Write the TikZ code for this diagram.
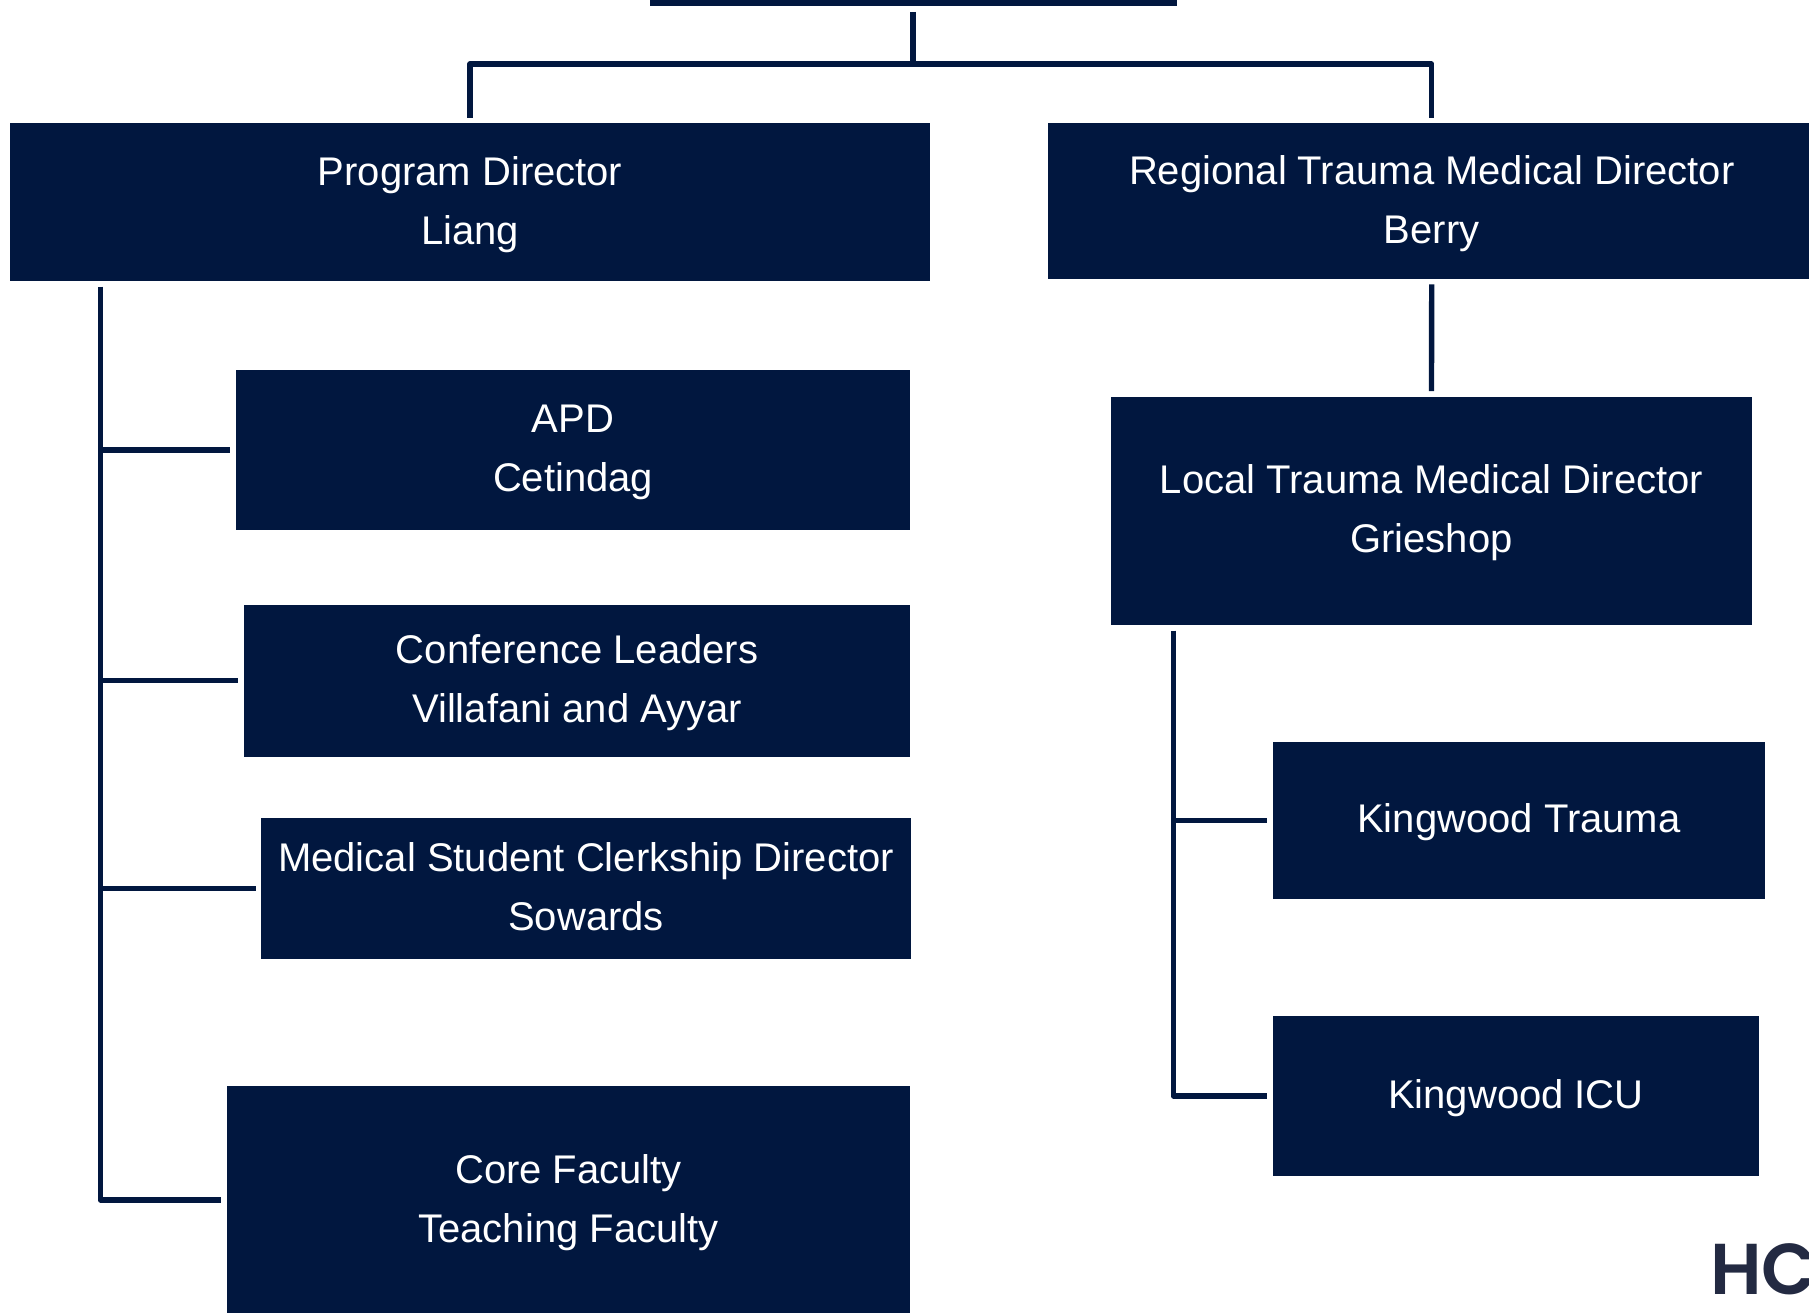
\documentclass[tikz,border=0pt]{standalone}
\usepackage{fontspec}
\setmainfont{Liberation Sans}
\newfontfamily\logofont{Poppins SemiBold}
\definecolor{navy}{HTML}{01173F}
\definecolor{logoink}{HTML}{232A42}
\newcommand{\orgbox}[6]{\node[orgnode,minimum width={(#4-#2)*1.1537pt},minimum height={(#5-#3)*1.1537pt}] (#1) at ({(#2+#4)/2},{(#3+#5)/2}) {\rule{0pt}{36pt}#6\rule[-11pt]{0pt}{11pt}};}
\tikzset{
  orgnode/.style={fill=navy,text=white,inner sep=0pt,outer sep=0pt,align=center,font=\fontsize{40}{59}\selectfont},
  conn/.style={draw=navy,line width=5.4pt,line join=round},
  gapboth/.style={conn,shorten <=5.8pt,shorten >=5.8pt},
  gapend/.style={conn,shorten >=5.8pt},
  gapstart/.style={conn,shorten <=5.8pt}
}
\begin{document}
\begin{tikzpicture}[x=1.1537pt,y=-1.1537pt]
\useasboundingbox (0,0) rectangle (1568,1138);
\clip (0,0) rectangle (1568,1138);
\node[orgnode,minimum width={457*1.1537pt},minimum height={10.4*1.1537pt}] (top) at (791.5,0) {};
\orgbox{pd}{9}{107}{806}{243.5}{Program Director\\Liang}
\orgbox{rt}{908}{107}{1574}{241.5}{Regional Trauma Medical Director\\Berry}
\orgbox{apd}{204.5}{321}{789}{459}{APD\\Cetindag}
\orgbox{conf}{211.5}{524}{789}{656}{Conference Leaders\\Villafani and Ayyar}
\orgbox{med}{226.5}{709}{789.5}{831}{Medical Student Clerkship Director\\Sowards}
\orgbox{core}{196.5}{941}{789}{1140.5}{Core Faculty\\Teaching Faculty}
\orgbox{local}{963}{344}{1518.5}{541.5}{Local Trauma Medical Director\\Grieshop}
\orgbox{kt}{1103}{643}{1530}{779}{Kingwood Trauma}
\orgbox{ki}{1103}{881}{1525}{1019.5}{Kingwood ICU}
\node[text=logoink,anchor=base west,inner sep=0pt,font=\logofont\fontsize{72}{72}\selectfont] (logo) at (1482,1122) {HC};
\coordinate (bus) at (791.5,55.5);
\coordinate (lefttrunk) at (87,1040);
\coordinate (righttrunk) at (1017,950);
\draw[gapstart] (top.south) -- (bus);
\draw[gapend] (bus) -| (pd.north);
\draw[gapend] (bus) -| (rt.north);
\draw[gapboth] (rt.south) -- (local.north);
\draw[gapboth] (pd.south -| lefttrunk) -- (lefttrunk) -- (core.west |- lefttrunk);
\draw[gapend] (apd.west -| lefttrunk) -- (apd.west);
\draw[gapend] (conf.west -| lefttrunk) -- (conf.west);
\draw[gapend] (med.west -| lefttrunk) -- (med.west);
\draw[gapboth] (local.south -| righttrunk) -- (righttrunk) -- (ki.west |- righttrunk);
\draw[gapend] (kt.west -| righttrunk) -- (kt.west);
\end{tikzpicture}
\end{document}
